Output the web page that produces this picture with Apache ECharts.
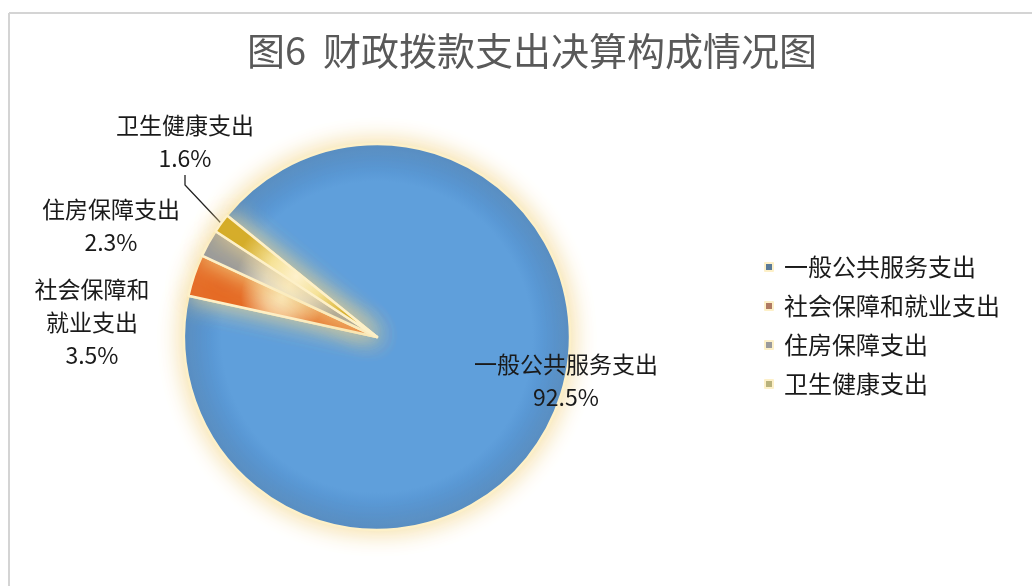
<!DOCTYPE html>
<html><head><meta charset="utf-8">
<script src="https://cdn.jsdelivr.net/npm/echarts@6/dist/echarts.min.js"></script>
<style>html,body{margin:0;padding:0;background:#fff}#c{width:1032px;height:586px}</style>
</head><body><div id="c"></div>
<script>
const titleText = '图6  财政拨款支出决算构成情况图';
const categories = ['一般公共服务支出', '社会保障和就业支出', '住房保障支出', '卫生健康支出'];
const labelNames = ['一般公共服务支出', '社会保障和\n就业支出', '住房保障支出', '卫生健康支出'];
const values = [92.5, 3.5, 2.3, 1.6];

const sliceColors = [
  ['#5f9fdb', '#4a86c5'],
  ['#f4c08e', '#e4621d'],
  ['#dcd8cc', '#8f949c'],
  ['#f6e49a', '#d2a81c']
];
const legendColors = ['#5a7a98', '#b07a62', '#9a9a9c', '#b9b27c'];
const labelPos = [[566, 381], [92, 322], [111, 226], [185, 142]];

const chart = echarts.init(document.getElementById('c'), null, {renderer: 'canvas'});
const font = '"Noto Sans CJK SC", "Noto Sans", sans-serif';

chart.setOption({
  backgroundColor: '#fff',
  animation: false,
  title: {
    text: titleText, left: 527, top: 27, textAlign: 'center',
    textStyle: {fontSize: 38, fontWeight: 'normal', color: '#595959', fontFamily: font}
  },
  legend: {
    orient: 'vertical', left: 759, top: 250, itemWidth: 8, itemHeight: 8, itemGap: 15,
    icon: 'rect',
    textStyle: {fontSize: 24, color: '#1a1a1a', fontFamily: font, padding: [0, 0, 0, 6]},
    data: categories.map((n, i) => ({name: n, itemStyle: {color: legendColors[i]}}))
  },
  graphic: [
    {type: 'line', shape: {x1: 9, y1: 13, x2: 1032, y2: 13}, style: {stroke: '#d4d4d4', lineWidth: 2}},
    {type: 'line', shape: {x1: 9, y1: 13, x2: 9, y2: 586}, style: {stroke: '#d4d4d4', lineWidth: 2}}
  ],
  series: [{
    type: 'pie',
    center: [377, 337],
    radius: [0, 193],
    startAngle: 141,
    clockwise: true,
    data: categories.map((n, i) => ({
      name: n, value: values[i],
      itemStyle: {
        color: {type: 'radial', x: 0.5, y: 0.5, r: 0.5,
          colorStops: i === 0
            ? [{offset: 0, color: sliceColors[i][0]}, {offset: 0.8, color: sliceColors[i][0]}, {offset: 1, color: sliceColors[i][1]}]
            : [{offset: 0, color: '#fff6d8'}, {offset: 0.45, color: sliceColors[i][0]}, {offset: 1, color: sliceColors[i][1]}]}
      },
      labelLine: {show: i === 3}
    })),
    itemStyle: {
      borderColor: '#fdf0c8', borderWidth: 2.5,
      shadowBlur: 24, shadowColor: 'rgba(243,214,140,0.95)'
    },
    label: {
      show: true,
      formatter: p => labelNames[p.dataIndex] + '\n' + p.value.toFixed(1) + '%',
      fontSize: 23, lineHeight: 33, color: '#1a1a1a', fontFamily: font, align: 'center'
    },
    labelLine: {length: 10, length2: 10, lineStyle: {color: '#222', width: 1.3}},
    labelLayout: p => ({x: labelPos[p.dataIndex][0], y: labelPos[p.dataIndex][1], align: 'center', verticalAlign: 'middle'})
  }]
});
</script></body></html>
